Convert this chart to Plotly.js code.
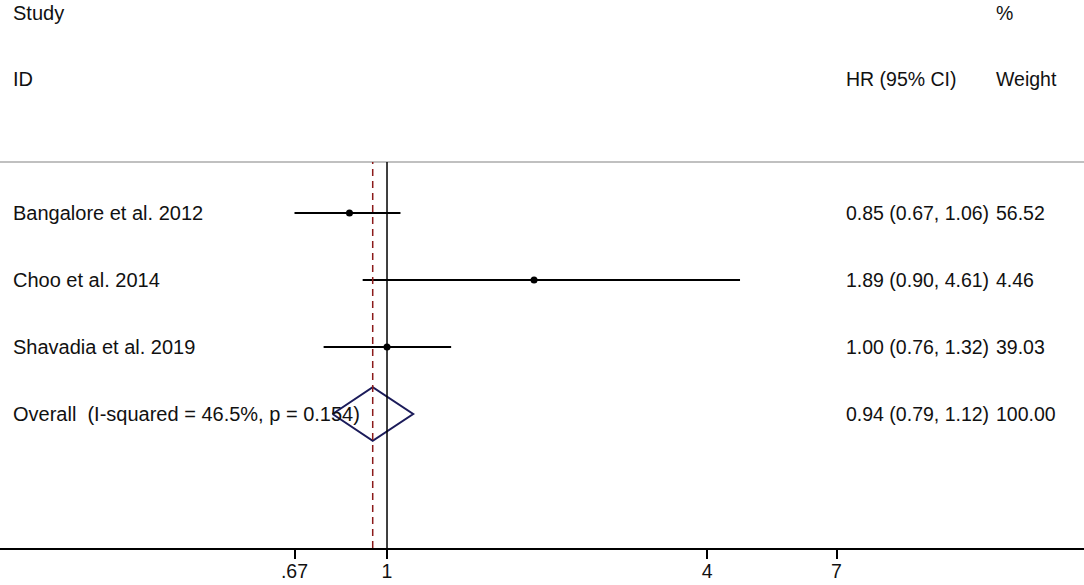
<!DOCTYPE html>
<html>
<head>
<meta charset="utf-8">
<script src="https://cdn.plot.ly/plotly-3.0.1.min.js"></script>
<style>html,body{margin:0;padding:0;background:#fff;}#chart{width:1084px;height:585px;}</style>
</head>
<body>
<div id="chart"></div>
<script>
// ---- data ----
const studies = ["Bangalore et al. 2012", "Choo et al. 2014", "Shavadia et al. 2019"];
const hr      = [0.85, 1.89, 1.00];
const lower   = [0.67, 0.90, 0.76];
const upper   = [1.06, 4.61, 1.32];
const weights = ["56.52", "4.46", "39.03"];
const overallLabel = "Overall\u00A0\u00A0(I-squared = 46.5%, p = 0.154)";
const overallHR = 0.94, overallLo = 0.79, overallHi = 1.12, overallWeight = "100.00";
const tickVals = [0.67, 1, 4, 7];
const tickText = [".67", "1", "4", "7"];
const headers = {study: "Study", id: "ID", pct: "%", hr: "HR (95% CI)", weight: "Weight"};

// ---- build ----
const fmt = v => v.toFixed(2);
const rows = studies.map((_, i) => i + 1);
const overallRow = studies.length + 1;

const ciX = [], ciY = [];
studies.forEach((s, i) => { ciX.push(lower[i], upper[i], null); ciY.push(rows[i], rows[i], null); });

const dH = 0.4;
const traces = [
  {type: 'scatter', mode: 'lines', x: ciX, y: ciY, line: {color: '#000', width: 2}, hoverinfo: 'skip'},
  {type: 'scatter', mode: 'markers', x: hr, y: rows, marker: {color: '#000', size: 7}, hoverinfo: 'skip'},
  {type: 'scatter', mode: 'lines',
   x: [overallLo, overallHR, overallHi, overallHR, overallLo],
   y: [overallRow, overallRow - dH, overallRow, overallRow + dH, overallRow],
   line: {color: '#1b1b5a', width: 2}, hoverinfo: 'skip'}
];

const fam = 'Arial, "Liberation Sans", sans-serif';
const fontL = {family: fam, size: 20, color: '#111'};
const fontR = {family: fam, size: 19.5, color: '#111'};
const ann = [];
const W = 1084;
const addA = (text, xpx, y, yref, font) => ann.push({text, x: xpx / W, y, xref: 'paper', yref, xanchor: 'left', yanchor: 'middle', showarrow: false, borderpad: 0, borderwidth: 0, font});
const yTopPx = 548;
const py = px => (yTopPx - px) / yTopPx;
addA(headers.study, 13, py(13), 'paper', fontL);
addA(headers.id, 13, py(79), 'paper', fontL);
addA(headers.pct, 996, py(13), 'paper', fontR);
addA(headers.hr, 846, py(79), 'paper', fontR);
addA(headers.weight, 996, py(79), 'paper', fontR);
studies.forEach((s, i) => {
  addA(s, 13, rows[i], 'y', fontL);
  addA(`${fmt(hr[i])} (${fmt(lower[i])}, ${fmt(upper[i])})`, 846, rows[i], 'y', fontR);
  addA(weights[i], 996, rows[i], 'y', fontR);
});
addA(overallLabel, 13, overallRow, 'y', fontL);
addA(`${fmt(overallHR)} (${fmt(overallLo)}, ${fmt(overallHi)})`, 846, overallRow, 'y', fontR);
addA(overallWeight, 996, overallRow, 'y', fontR);

const sepY = py(162);
const shapes = [
  {type: 'line', xref: 'paper', yref: 'paper', x0: 0, x1: 1, y0: sepY, y1: sepY, line: {color: '#c0c0c0', width: 2}},
  {type: 'line', xref: 'x', yref: 'paper', x0: 1, x1: 1, y0: 0, y1: sepY, line: {color: '#000', width: 1.5}},
  {type: 'line', xref: 'x', yref: 'paper', x0: overallHR, x1: overallHR, y0: 0, y1: sepY, line: {color: '#8b1a1a', width: 1.5, dash: '7px,5px'}}
];

const layout = {
  width: 1084, height: 585,
  margin: {l: 0, r: 0, t: 0, b: 37, pad: 0},
  paper_bgcolor: '#fff', plot_bgcolor: '#fff',
  showlegend: false,
  xaxis: {type: 'log', range: [-0.7276, 1.3104], tickvals: tickVals, ticktext: tickText,
          ticks: 'outside', ticklen: 9, tickwidth: 2, tickcolor: '#000', ticklabelstandoff: -4,
          showline: true, linewidth: 2, linecolor: '#000', showgrid: false, zeroline: false,
          tickfont: fontR, fixedrange: true},
  yaxis: {range: [1 + (548 - 213) / 67, 1 - 213 / 67], visible: false, showgrid: false, zeroline: false, fixedrange: true},
  annotations: ann,
  shapes: shapes
};

Plotly.newPlot('chart', traces, layout, {displayModeBar: false, staticPlot: true});
</script>
</body>
</html>
